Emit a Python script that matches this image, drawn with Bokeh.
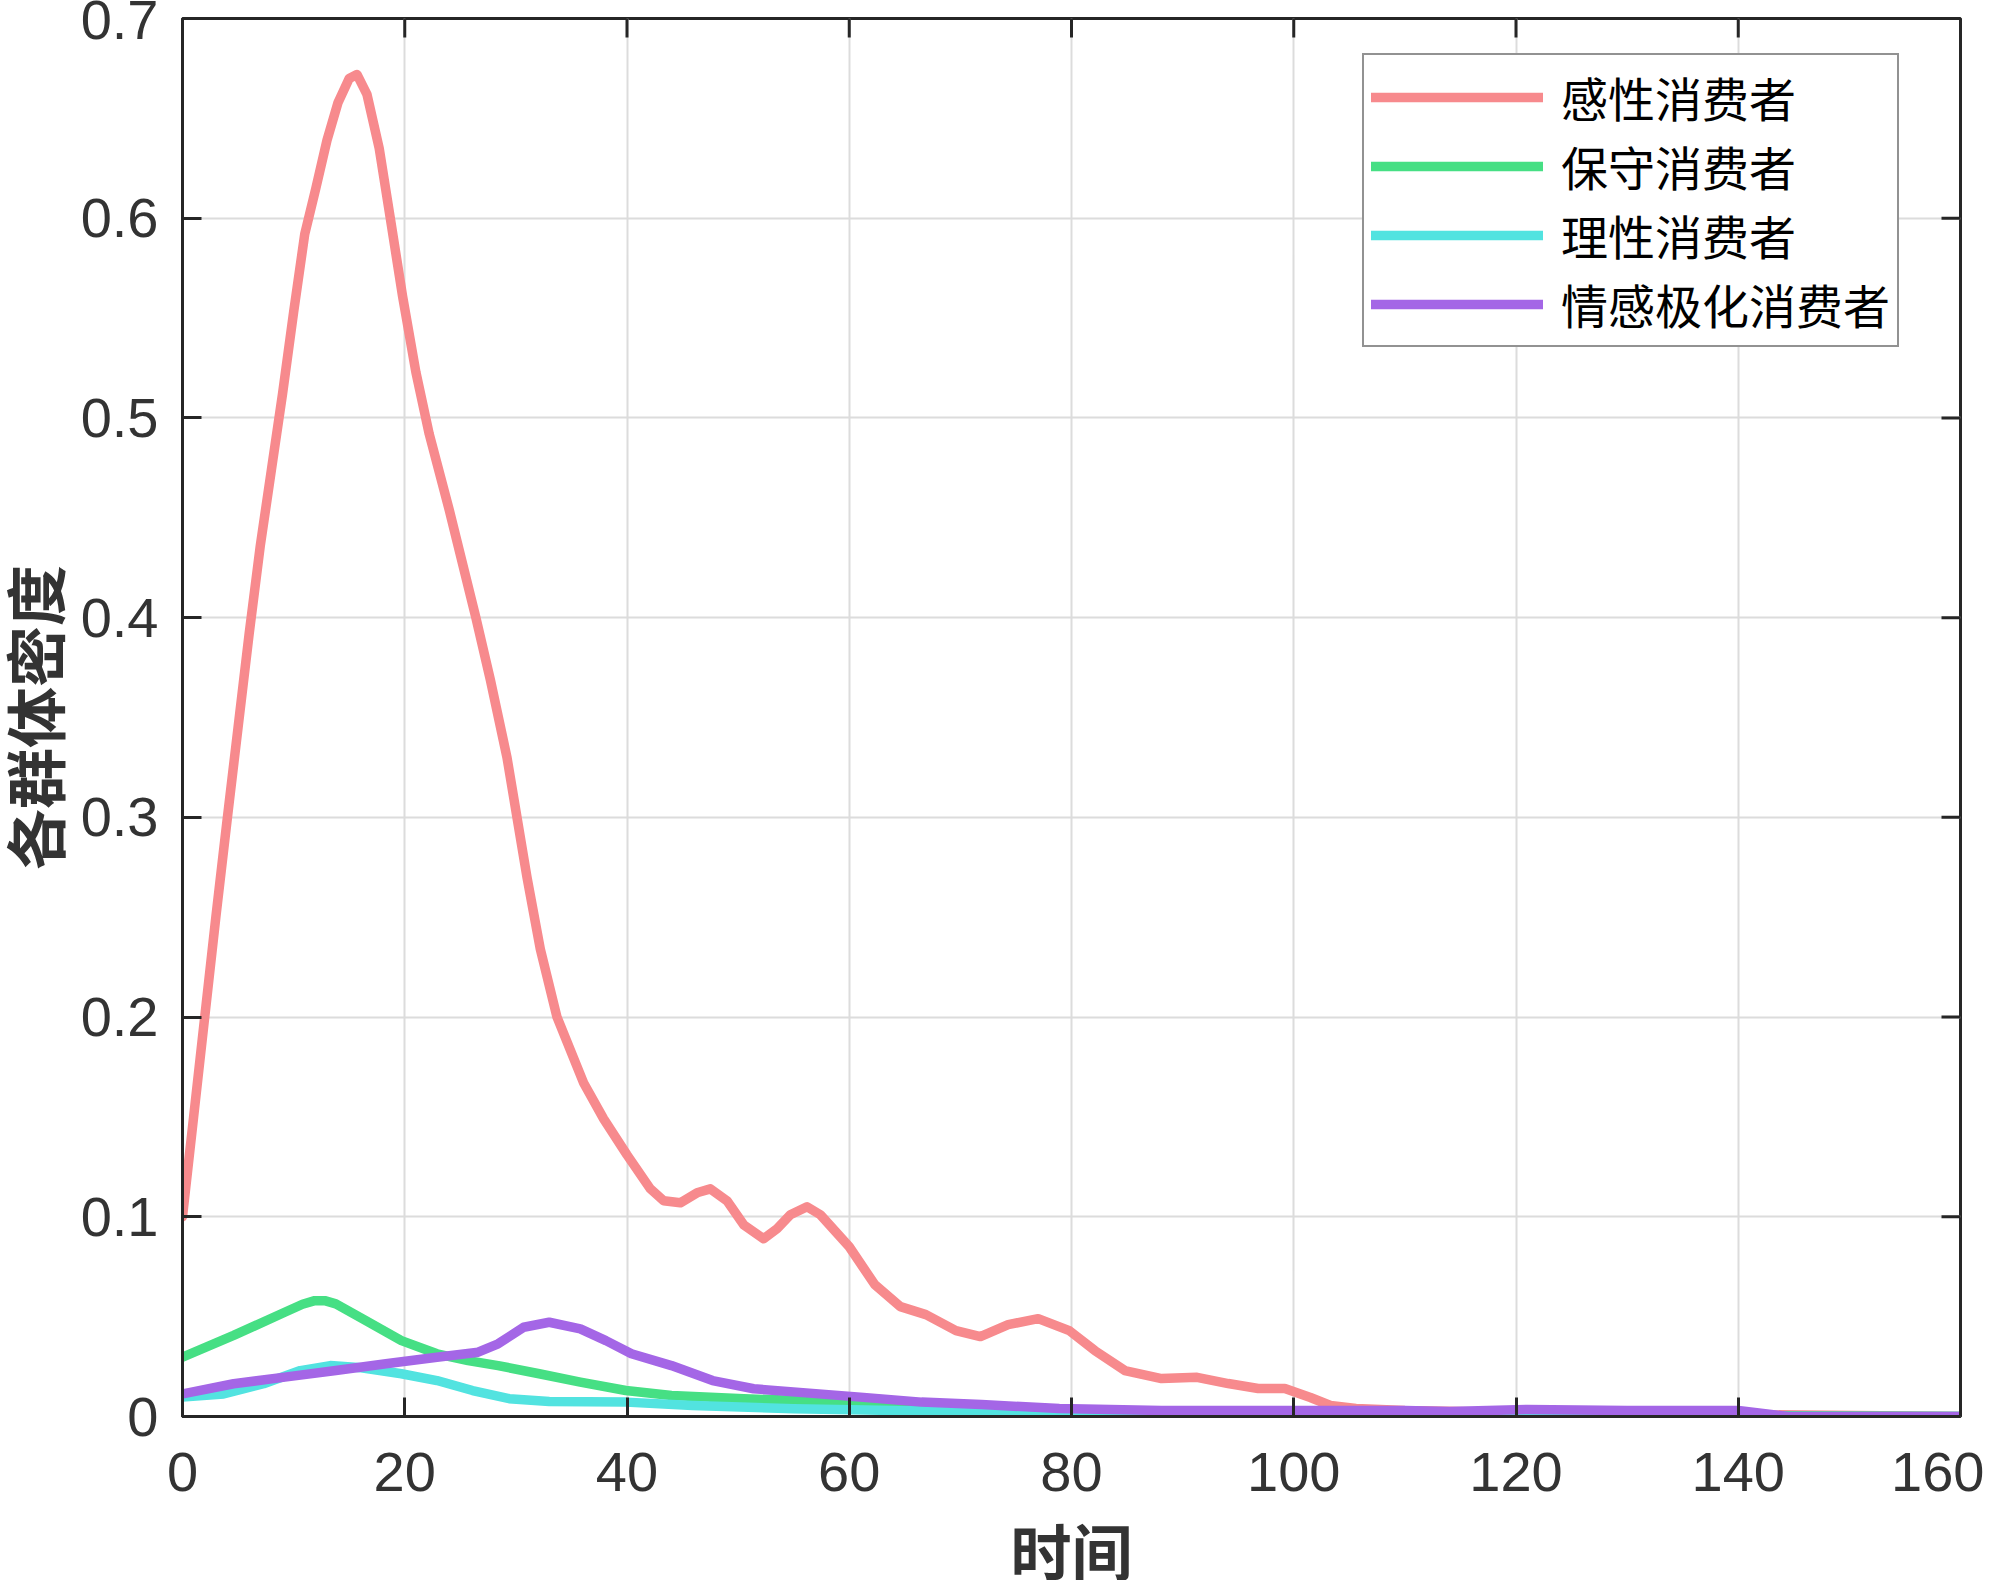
import math
from bokeh.plotting import figure
from bokeh.models import (Range1d, FixedTicker, Legend, LegendItem)
from bokeh.embed import file_html
from bokeh.resources import INLINE

# ---------------- data ----------------
series_names = ["感性消费者", "保守消费者", "理性消费者", "情感极化消费者"]

red_x = [0, 1, 2, 3, 4, 5, 6, 7, 8, 9, 10, 11, 12, 13, 14, 15, 15.7, 16.6, 17.7,
         18.7, 19.8, 21.0, 22.2, 24.0, 26.4, 27.7, 29.2, 30.1, 31.0, 32.2, 33.7,
         36.1, 37.9, 40.0, 42.1, 43.3, 44.8, 46.3, 47.5, 49.0, 50.5, 52.3, 53.5,
         54.7, 56.2, 57.4, 60.0, 62.3, 64.6, 66.9, 69.6, 71.8, 74.3, 77.0, 79.8,
         82.1, 84.8, 88.1, 91.3, 94.1, 96.8, 99.2, 101.5, 103.3, 105.6, 110, 120,
         140, 160]
red_y = [0.100, 0.150, 0.200, 0.250, 0.298, 0.345, 0.392, 0.436, 0.474, 0.512,
         0.553, 0.592, 0.615, 0.639, 0.658, 0.670, 0.672, 0.662, 0.635, 0.600,
         0.561, 0.523, 0.492, 0.454, 0.400, 0.369, 0.330, 0.300, 0.270, 0.234,
         0.200, 0.167, 0.149, 0.131, 0.114, 0.108, 0.107, 0.112, 0.114, 0.108,
         0.096, 0.089, 0.094, 0.101, 0.105, 0.101, 0.085, 0.066, 0.055, 0.051,
         0.043, 0.040, 0.046, 0.049, 0.043, 0.033, 0.023, 0.019, 0.0196, 0.0165,
         0.014, 0.014, 0.0095, 0.0055, 0.004, 0.003, 0.002, 0.001, 0.0]

green_x = [0, 4.6, 9.2, 10.8, 11.9, 12.8, 13.8, 16.5, 19.7, 22.9, 25.7, 28.4,
           32.1, 35.8, 39.9, 44.0, 50.5, 59.6, 70, 80, 90, 100, 120, 140, 160]
green_y = [0.0297, 0.0406, 0.0522, 0.0562, 0.0580, 0.0580, 0.0564, 0.0480,
           0.0380, 0.0314, 0.0280, 0.0255, 0.0214, 0.0172, 0.0130, 0.0105,
           0.0089, 0.0072, 0.0050, 0.0030, 0.0020, 0.0015, 0.0010, 0.0005, 0.0]

cyan_x = [0, 3.7, 7.3, 10.6, 13.3, 16.1, 19.7, 22.9, 26.1, 29.4, 33.0, 39.9,
          45.9, 55.0, 71.9, 80, 100, 115, 130, 160]
cyan_y = [0.0097, 0.0113, 0.0164, 0.0230, 0.0255, 0.0244, 0.0214, 0.0180,
          0.0130, 0.0089, 0.0075, 0.0072, 0.0055, 0.0039, 0.0022, 0.0018,
          0.0008, 0.0, 0.0, 0.0]

purple_x = [0, 4.6, 9.2, 13.8, 18.3, 22.9, 26.6, 28.4, 30.7, 33.0, 35.8, 38.1,
            40.4, 44.0, 47.7, 51.4, 56.4, 61.0, 66.5, 71.9, 78.9, 88.1, 100,
            110, 114, 121, 130, 140, 144.5, 160]
purple_y = [0.0113, 0.0164, 0.0197, 0.0230, 0.0264, 0.0297, 0.0322, 0.0364,
            0.0447, 0.0472, 0.0439, 0.0380, 0.0314, 0.0255, 0.0180, 0.0139,
            0.0117, 0.0097, 0.0072, 0.0060, 0.0040, 0.0030, 0.0030, 0.0030,
            0.0025, 0.0035, 0.0030, 0.0030, 0.0, 0.0]

x_min, x_max = 0, 160
y_min, y_max = 0, 0.7
x_ticks = [0, 20, 40, 60, 80, 100, 120, 140, 160]
y_ticks = [0, 0.1, 0.2, 0.3, 0.4, 0.5, 0.6, 0.7]
y_tick_labels = ["0", "0.1", "0.2", "0.3", "0.4", "0.5", "0.6", "0.7"]
x_label = "时间"
y_label = "各群体密度"

colors = ["#F78A8D", "#46DF84", "#52E3E0", "#A466E6"]

# ---------------- figure ----------------
AX = "#262626"
TXT = "#333333"
TICK_FONT = "Liberation Sans"
CJK = "Noto Sans CJK SC"
LABEL_FONT = "Liberation Sans, Noto Sans CJK SC"

FRAME_L, FRAME_R, FRAME_T, FRAME_B = 182, 1960, 18, 1416
W, H = 1984, 1596

p = figure(width=W, height=H,
           x_range=Range1d(x_min, x_max), y_range=Range1d(y_min, y_max),
           output_backend="svg", toolbar_location=None,
           min_border_left=FRAME_L, min_border_right=W - FRAME_R,
           min_border_top=FRAME_T, min_border_bottom=H - FRAME_B)
p.background_fill_color = "white"
p.border_fill_color = "white"
p.outline_line_color = AX
p.outline_line_width = 3

for ax in (p.xaxis[0], p.yaxis[0]):
    ax.axis_line_color = AX
    ax.axis_line_width = 3
    ax.major_tick_in = 19
    ax.major_tick_out = 0
    ax.major_tick_line_color = AX
    ax.major_tick_line_width = 3
    ax.minor_tick_line_color = None
    ax.major_label_text_font = TICK_FONT
    ax.major_label_text_font_size = "56px"
    ax.major_label_text_color = TXT
    ax.axis_label_text_font = LABEL_FONT
    ax.axis_label_text_font_style = "bold"
    ax.axis_label_text_font_size = "61px"
    ax.axis_label_text_color = TXT

p.xaxis[0].ticker = FixedTicker(ticks=x_ticks)
p.yaxis[0].ticker = FixedTicker(ticks=y_ticks)
p.yaxis[0].major_label_overrides = {t: s for t, s in zip(y_ticks, y_tick_labels)}
p.xaxis[0].major_label_standoff = 36
p.yaxis[0].major_label_standoff = 24
p.xaxis[0].axis_label = x_label
p.yaxis[0].axis_label = y_label
p.xaxis[0].axis_label_standoff = 27
p.yaxis[0].axis_label_standoff = 5

# ticks on the top and right edges (box on)
tick_len = 19
p.ray(x=x_ticks, y=[y_max] * len(x_ticks), length=tick_len, length_units="screen",
      angle=-math.pi / 2, line_color=AX, line_width=3)
p.ray(x=[x_max] * len(y_ticks), y=y_ticks, length=tick_len, length_units="screen",
      angle=math.pi, line_color=AX, line_width=3)

p.xgrid.ticker = FixedTicker(ticks=x_ticks)
p.ygrid.ticker = FixedTicker(ticks=y_ticks)
for g in (p.xgrid[0], p.ygrid[0]):
    g.grid_line_color = "#dcdcdc"
    g.grid_line_width = 2

# ---------------- lines ----------------
rs = []
for xs, ys, c in ((red_x, red_y, colors[0]), (green_x, green_y, colors[1]),
                  (cyan_x, cyan_y, colors[2]), (purple_x, purple_y, colors[3])):
    r = p.line(xs, ys, line_color=c, line_width=9.5, line_join="round", line_cap="round")
    rs.append(r)

legend = Legend(items=[LegendItem(label=n, renderers=[r]) for n, r in zip(series_names, rs)],
                location=(1362 - FRAME_L, FRAME_B - 347))
legend.label_text_font = CJK
legend.label_text_font_size = "47px"
legend.label_text_color = "black"
legend.glyph_width = 172
legend.glyph_height = 40
legend.label_height = 40
legend.label_standoff = 18
legend.spacing = 0
legend.padding = 7
legend.margin = 0
legend.border_line_color = AX
legend.border_line_width = 2
legend.background_fill_color = "white"
legend.background_fill_alpha = 1
p.add_layout(legend, "center")

open("out.html", "w").write(file_html(p, INLINE))
